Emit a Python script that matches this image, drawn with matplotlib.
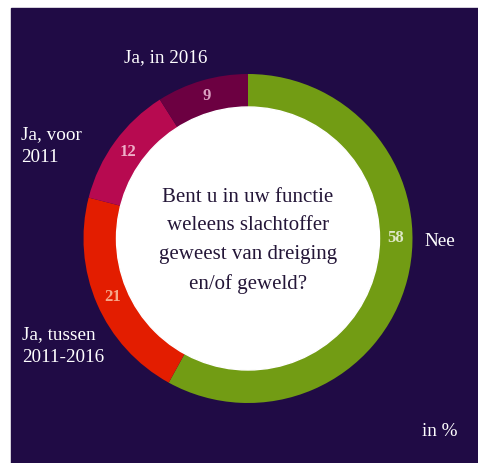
import matplotlib.pyplot as plt
from matplotlib.patches import Rectangle, Circle
import numpy as np

# data, clockwise from 12 o'clock
labels = ['Nee', 'Ja, tussen\n2011-2016', 'Ja, voor\n2011', 'Ja, in 2016']
values = [58, 21, 12, 9]
colors = ['#729c14', '#e31d00', '#b70a50', '#6c0041']
num_colors = ['#dfe8c8', '#f6a88a', '#eeb0c8', '#dba2c2']
question = 'Bent u in uw functie\nweleens slachtoffer\ngeweest van dreiging\nen/of geweld?'

plt.rcParams['font.family'] = ['Liberation Serif', 'DejaVu Serif']

W, H = 478, 463
fig = plt.figure(figsize=(W / 100, H / 100), dpi=100, facecolor='white')
ax = fig.add_axes([0, 0, 1, 1])
ax.set_xlim(0, W)
ax.set_ylim(0, H)
ax.set_aspect('equal')
ax.axis('off')

bg = '#200b45'
ax.add_patch(Rectangle((11, 0), W - 11, H - 8, color=bg, zorder=0))

cx, cy = 248, H - 238.5
r_out, width = 164.5, 33
ax.pie(values, colors=colors, startangle=90, counterclock=False,
       center=(cx, cy), radius=r_out,
       wedgeprops=dict(width=width, linewidth=0))
ax.add_patch(Circle((cx, cy), r_out - width, color='white', zorder=3))
ax.set_xlim(0, W)
ax.set_ylim(0, H)

# value labels in the ring
r_mid = r_out - width / 2
start = 90.0
for i, v in enumerate(values):
    ang = start - v * 3.6 / 2
    if i == 0:
        ang = 0  # "58" sits level with the centre
    x = cx + r_mid * np.cos(np.radians(ang))
    y = cy + r_mid * np.sin(np.radians(ang))
    ax.text(x, y, str(v), color=num_colors[i], fontsize=12, fontweight='bold',
            ha='center', va='center', zorder=4)
    start -= v * 3.6

ax.text(cx, cy - 2.5, question, ha='center', va='center', fontsize=15,
        color='#241638', linespacing=1.68, zorder=4)

txt = dict(color='white', fontsize=13.8, zorder=4)
ax.text(424, H - 241, labels[0], ha='left', va='center', **txt)
ax.text(22, H - 346, labels[1], ha='left', va='center', linespacing=1.45, **txt)
ax.text(21, H - 146, labels[2], ha='left', va='center', linespacing=1.45, **txt)
ax.text(166, H - 58, labels[3], ha='center', va='center', **txt)
ax.text(440, H - 431, 'in %', ha='center', va='center', **txt)

fig.savefig('out.png', dpi=100, facecolor='white')
